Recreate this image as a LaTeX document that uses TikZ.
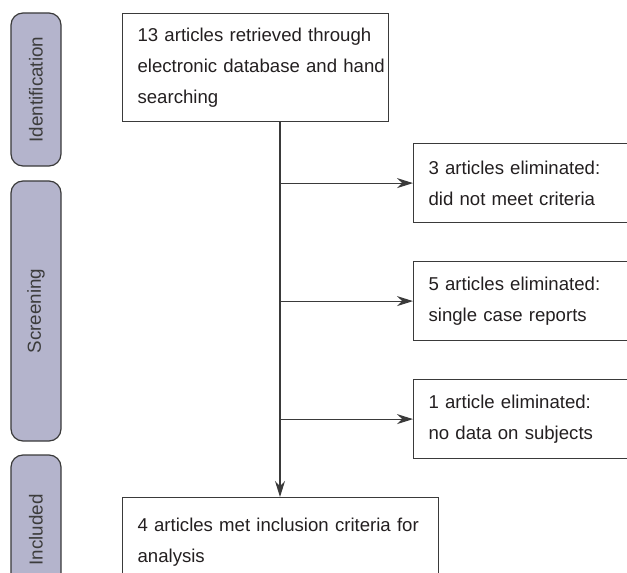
\documentclass[tikz,border=0pt]{standalone}
\usepackage{fontspec}
\setmainfont{Liberation Sans}
\usetikzlibrary{arrows.meta}
\definecolor{pillfill}{HTML}{B4B4CC}
\definecolor{linecol}{HTML}{3A3A3A}
\definecolor{txtcol}{HTML}{231F20}
\definecolor{pilltxt}{HTML}{3C3C3C}
\tikzset{
  box/.style={draw=linecol, line width=1.2bp, rectangle, align=left, inner xsep=15bp, inner ysep=0bp,
    text=txtcol, font=\fontsize{18.6bp}{31bp}\selectfont, anchor=north west},
  pill/.style={draw=linecol, line width=1.2bp, fill=pillfill, rounded corners=12bp, text=pilltxt,
    font=\fontsize{18.8bp}{22bp}\selectfont, rotate=90, minimum height=50bp, inner sep=0bp},
  arr/.style={draw=linecol, line width=1.2bp, -{Stealth[length=16bp,width=10bp]}},
  ln/.style={draw=linecol, line width=1.2bp}
}
\begin{document}
\begin{tikzpicture}[x=1bp,y=-1bp]
\useasboundingbox (0,0) rectangle (627,573);
\clip (0,0) rectangle (627,573);
% stage labels
\node[pill, minimum width=153bp] (ident) at (36,89.5) {Identification};
\node[pill, minimum width=260bp] (screen) at (36,311) {Screening};
\node[pill, minimum width=150bp] (incl) at (36,530) {Included};
% boxes
\node[box, minimum width=266bp, minimum height=108bp, text width=236bp] (top) at (122,13)
  {\mbox{13 articles retrieved through}\\\mbox{electronic database and hand}\\searching};
\node[box, minimum width=240bp, minimum height=79bp, text width=210bp] (ex1) at (413,143)
  {3 articles eliminated:\\did not meet criteria};
\node[box, minimum width=240bp, minimum height=79bp, text width=210bp] (ex2) at (413,261)
  {5 articles eliminated:\\single case reports};
\node[box, minimum width=240bp, minimum height=79bp, text width=210bp] (ex3) at (413,379)
  {1 article eliminated:\\no data on subjects};
\node[box, minimum width=316bp, minimum height=90bp, text width=286bp] (fin) at (122,497)
  {\mbox{4 articles met inclusion criteria for}\\analysis};
% connectors
\coordinate (trunk) at (280,0);
\draw[arr] (top.south -| trunk) -- (fin.north -| trunk);
\draw[arr] (ex1.west -| trunk) -- (ex1.west);
\draw[arr] (ex2.west -| trunk) -- (ex2.west);
\draw[arr] (ex3.west -| trunk) -- (ex3.west);
\end{tikzpicture}
\end{document}
